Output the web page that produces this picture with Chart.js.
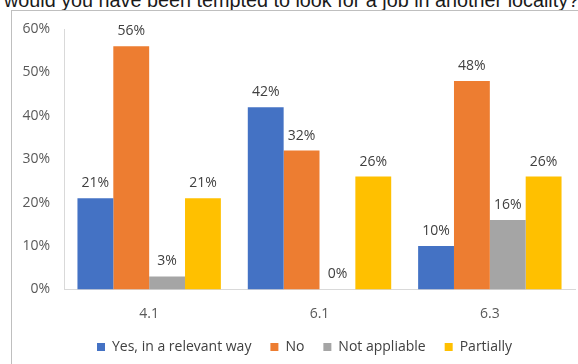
<!DOCTYPE html>
<html>
<head>
<meta charset="utf-8">
<script src="https://cdn.jsdelivr.net/npm/chart.js@4/dist/chart.umd.min.js"></script>
<style>
    html, body { margin: 0; padding: 0; background: #fff; overflow: hidden; }
    #wrap { position: relative; width: 578px; height: 364px; }
    #heading {
        position: absolute; left: 4px; top: -11px;
        font: 19.8px "Liberation Sans", Arial, sans-serif;
        color: #1a1a1a; white-space: nowrap;
    }
    #frame {
        position: absolute; left: 11px; top: 10px; right: -2px; bottom: -2px;
        border-left: 1px solid #bfbfbf; border-top: 1px solid #bfbfbf;
    }
    canvas { position: absolute; left: 0; top: 0; }
</style>
</head>
<body>
<div id="wrap">
    <div id="heading">would you have been tempted to look for a job in another locality?</div>
    <div id="frame"></div>
    <canvas id="answers" width="578" height="364"></canvas>
</div>
<script>
// Survey answers per question, in percent
const questions = ['4.1', '6.1', '6.3'];
const yesRelevant = [21, 42, 10];
const noAnswer = [56, 32, 48];
const notApplicable = [3, 0, 16];
const partially = [21, 26, 26];

const seriesNames = ['Yes, in a relevant way', 'No', 'Not appliable', 'Partially'];
const seriesColors = ['#4472C4', '#ED7D31', '#A5A5A5', '#FFC000'];

const textFont = '"Open Sans", "Noto Sans", sans-serif';
const textColor = '#595959';

// Writes the value over each bar
const valueLabels = {
    id: 'valueLabels',
    afterDatasetsDraw(chart) {
        const ctx = chart.ctx;
        ctx.save();
        ctx.font = '14px ' + textFont;
        ctx.fillStyle = '#404040';
        ctx.textAlign = 'center';
        ctx.textBaseline = 'middle';
        chart.data.datasets.forEach((ds, i) => {
            chart.getDatasetMeta(i).data.forEach((bar, j) => {
                ctx.fillText(ds.data[j] + '%', bar.x, bar.y - 15);
            });
        });
        ctx.restore();
    }
};

// Centre the legend under the plot rather than the whole canvas
const legendNudge = {
    id: 'legendNudge',
    afterLayout(chart) {
        chart.legend.left += 17;
        chart.legend.right += 17;
    }
};

const allSeries = [yesRelevant, noAnswer, notApplicable, partially];

new Chart(document.getElementById('answers'), {
    type: 'bar',
    data: {
        labels: questions,
        datasets: allSeries.map((values, i) => ({
            label: seriesNames[i],
            data: values,
            backgroundColor: seriesColors[i],
            borderWidth: 0,
            barPercentage: 1,
            categoryPercentage: 0.842
        }))
    },
    options: {
        responsive: false,
        animation: false,
        layout: { padding: { left: 0, right: 3, top: 29, bottom: 0 } },
        plugins: {
            tooltip: { enabled: false },
            legend: {
                position: 'bottom',
                labels: {
                    boxWidth: 8,
                    boxHeight: 8,
                    padding: 19,
                    color: '#404040',
                    font: { family: textFont, size: 14 }
                }
            }
        },
        scales: {
            x: {
                afterFit: (scale) => { scale.height = 31.5; },
                grid: { display: false, drawTicks: false },
                border: { display: true, color: '#d9d9d9' },
                ticks: { color: textColor, padding: 16, font: { family: textFont, size: 14 } }
            },
            y: {
                min: 0,
                max: 60,
                afterFit: (scale) => { scale.width = 64; },
                grid: { display: false, drawTicks: false },
                border: { display: true, color: '#d9d9d9' },
                ticks: {
                    stepSize: 10,
                    padding: 14,
                    color: textColor,
                    font: { family: textFont, size: 14 },
                    callback: (v) => v + '%'
                }
            }
        }
    },
    plugins: [valueLabels, legendNudge]
});
</script>
</body>
</html>
